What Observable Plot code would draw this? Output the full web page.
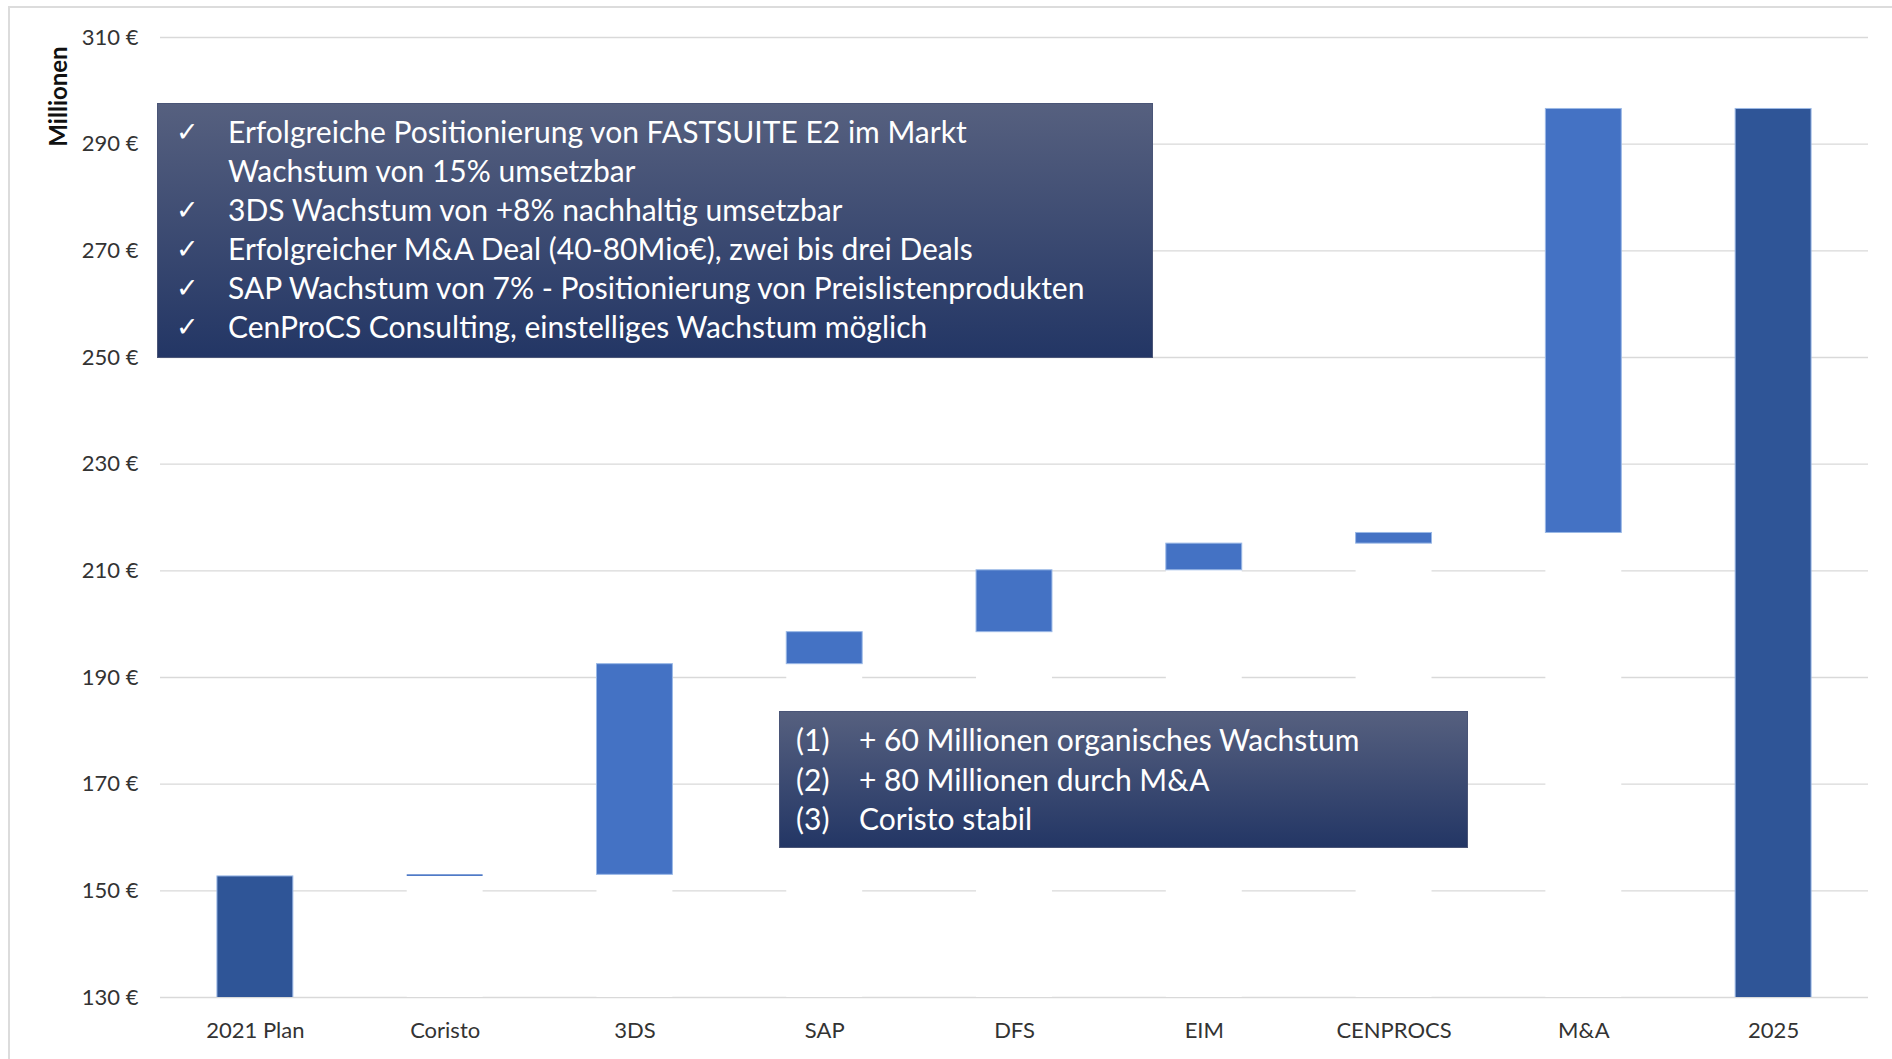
<!DOCTYPE html>
<html>
<head>
<meta charset="utf-8">
<script src="https://cdn.jsdelivr.net/npm/d3@7"></script>
<script src="https://cdn.jsdelivr.net/npm/@observablehq/plot@0.6"></script>
<style>
  html, body { margin: 0; padding: 0; background: #fff; overflow: hidden; }
  #wrap { position: relative; width: 1892px; height: 1059px; font-family: Lato, "Open Sans", sans-serif; }
  #frame { position: absolute; left: 8px; top: 6px; width: 2000px; height: 2000px; border: 2px solid #dcdcdc; box-sizing: border-box; }
  #chart { position: absolute; left: 0; top: 0; }
  .box { position: absolute; color: #fff; background: linear-gradient(to bottom, #56607f, #233665); box-sizing: border-box; border: 1px solid #4a5577; font-family: Lato, sans-serif; }
  .line { position: relative; white-space: nowrap; }
  .mark { position: absolute; }
</style>
</head>
<body>
<div id="wrap">
  <div id="frame"></div>
  <div id="chart"></div>
  <div id="box1" class="box"></div>
  <div id="box2" class="box"></div>
</div>
<script>
// ---- data ----
const categories = ["2021 Plan", "Coristo", "3DS", "SAP", "DFS", "EIM", "CENPROCS", "M&A", "2025"];
const changes    = [152.7, 0.3, 39.5, 6.0, 11.6, 5.0, 2.0, 79.5, null];
const kinds      = ["total", "delta", "delta", "delta", "delta", "delta", "delta", "delta", "total"];
const yTicks     = [130, 150, 170, 190, 210, 230, 250, 270, 290, 310];
const yLabel     = "Millionen";
const notes1 = [
  ["✓", "Erfolgreiche Positionierung von FASTSUITE E2 im Markt"],
  ["",  "Wachstum von 15% umsetzbar"],
  ["✓", "3DS Wachstum von +8% nachhaltig umsetzbar"],
  ["✓", "Erfolgreicher M&A Deal (40-80Mio€), zwei bis drei Deals"],
  ["✓", "SAP Wachstum von 7% - Positionierung von Preislistenprodukten"],
  ["✓", "CenProCS Consulting, einstelliges Wachstum möglich"]
];
const notes2 = [
  ["(1)", "+ 60 Millionen organisches Wachstum"],
  ["(2)", "+ 80 Millionen durch M&A"],
  ["(3)", "Coristo stabil"]
];

// ---- build waterfall rows ----
let run = 0;
const rows = categories.map((c, i) => {
  if (kinds[i] === "total") {
    const v = changes[i] == null ? run : changes[i];
    run = v;
    return {cat: c, kind: "total", lo: 0, hi: v, base: 0};
  } else {
    const lo = run; run = run + changes[i];
    return {cat: c, kind: "delta", lo, hi: run, base: lo};
  }
});

const chart = Plot.plot({
  width: 1892,
  height: 1059,
  marginTop: 37,
  marginBottom: 62,
  marginLeft: 160,
  marginRight: 24,
  style: {fontFamily: "Lato, sans-serif", fontSize: "22px", color: "#333", background: "transparent"},
  x: {domain: categories, paddingInner: 0.6, paddingOuter: 0.3, round: false},
  y: {domain: [130, 310]},
  marks: [
    Plot.gridY(yTicks, {stroke: "#d9d9d9", strokeOpacity: 1, strokeWidth: 1.4}),
    Plot.barY(rows.filter(d => d.kind === "delta"), {x: "cat", y1: 0, y2: "base", fill: "white", clip: true}),
    Plot.barY(rows, {
      x: "cat", y1: "lo", y2: "hi", clip: true,
      fill: d => d.kind === "total" ? "#2f5597" : "#4472c4",
      stroke: d => (d.hi - d.lo) > 1 ? "#9ab8e6" : "none", strokeWidth: 1
    }),
    Plot.axisY({ticks: yTicks, tickFormat: d => `${d} €`, tickSize: 0, tickPadding: 22, label: null, fill: "#333", fontSize: 22}),
    Plot.axisX({tickSize: 0, tickPadding: 25, label: null, fill: "#333", fontSize: 22}),
    Plot.text([yLabel], {frameAnchor: "top-left", dx: -101, dy: 59, rotate: -90, textAnchor: "middle", lineAnchor: "middle", fontSize: 24, fontWeight: "bold", fill: "#111"})
  ]
});
document.getElementById("chart").appendChild(chart);

// ---- annotation boxes ----
function fillBox(id, box, lines, opt) {
  const el = document.getElementById(id);
  Object.assign(el.style, {left: box.x + "px", top: box.y + "px", width: box.w + "px", height: box.h + "px",
    paddingTop: opt.padTop + "px", fontSize: opt.fs + "px", lineHeight: opt.lh + "px"});
  lines.forEach(([m, t]) => {
    const ln = document.createElement("div");
    ln.className = "line";
    ln.style.height = opt.lh + "px";
    const mk = document.createElement("span");
    mk.className = "mark"; mk.textContent = m; mk.style.left = opt.markX + "px";
    if (opt.markFont) { mk.style.fontFamily = opt.markFont; mk.style.fontSize = opt.markFs + "px"; }
    const tx = document.createElement("span");
    tx.textContent = t; tx.style.position = "absolute"; tx.style.left = opt.textX + "px";
    ln.appendChild(mk); ln.appendChild(tx);
    el.appendChild(ln);
  });
}
fillBox("box1", {x: 157, y: 103, w: 996, h: 255}, notes1, {padTop: 8, fs: 30, lh: 39.1, markX: 18, textX: 70, markFont: "DejaVu Sans", markFs: 27});
fillBox("box2", {x: 779, y: 711, w: 689, h: 137}, notes2, {padTop: 8, fs: 30, lh: 39.5, markX: 16, textX: 79});
</script>
</body>
</html>
